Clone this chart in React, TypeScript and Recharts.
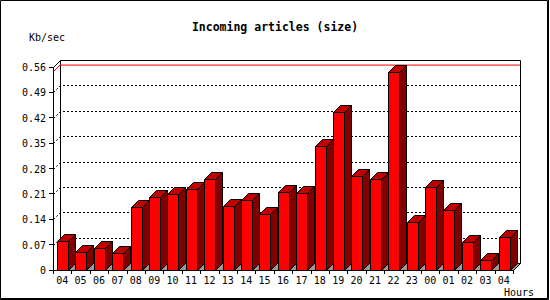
import React from 'react';
import { BarChart, Bar, XAxis, YAxis, CartesianGrid, ReferenceArea, ReferenceLine } from 'recharts';

const hours = ['04', '05', '06', '07', '08', '09', '10', '11', '12', '13', '14', '15', '16', '17', '18', '19', '20', '21', '22', '23', '00', '01', '02', '03', '04'];
const kbPerSec = [0.080, 0.050, 0.061, 0.047, 0.174, 0.201, 0.210, 0.223, 0.251, 0.177, 0.193, 0.154, 0.215, 0.212, 0.342, 0.436, 0.259, 0.251, 0.546, 0.132, 0.229, 0.166, 0.077, 0.028, 0.091];
const yTicks = [0, 0.07, 0.14, 0.21, 0.28, 0.35, 0.42, 0.49, 0.56];
const yTickLabels = ['0', '0.07', '0.14', '0.21', '0.28', '0.35', '0.42', '0.49', '0.56'];
const title = 'Incoming articles (size)';
const yUnit = 'Kb/sec';
const xUnit = 'Hours';

const data = hours.map((h, i) => ({ hour: h, value: kbPerSec[i] }));
const maxValue = Math.max(...kbPerSec);
const yMaxDomain = 0.56;

const D = 7; // 3D depth
const FONT = '"DejaVu Sans Mono", "Liberation Mono", monospace';
const BAR_W = 11;

const px = (v: number) => Math.round(v) + 0.5;

function Bar3D(props: any) {
  const { x: rx, y: ry, width, height } = props;
  if (height == null || isNaN(height)) return null;
  const x = px(rx);
  const y = px(ry);
  const x2 = x + Math.round(width);
  const yb = px(ry + height);
  return (
    <g>
      <polygon points={`${x},${yb} ${x},${y} ${x2},${y} ${x2},${yb}`} fill="#ff0000" stroke="#000" strokeWidth={1} />
      <polygon points={`${x},${y} ${x + D},${y - D} ${x2 + D},${y - D} ${x2},${y}`} fill="#c00000" stroke="#000" strokeWidth={1} />
      <polygon points={`${x2},${y} ${x2 + D},${y - D} ${x2 + D},${yb - D} ${x2},${yb}`} fill="#800000" stroke="#000" strokeWidth={1} />
    </g>
  );
}

function Frame(props: any) {
  const { x: rx, y: ry, width, height } = props;
  if (rx == null || isNaN(rx)) return <g />;
  const catW = width / hours.length;
  const x = px(rx);
  const y = px(ry);
  const xr = px(rx + width);
  const fx = px(rx + (catW - BAR_W) / 2);
  const yb = px(ry + height);
  return (
    <g>
      <polygon
        points={`${fx},${yb} ${fx + D},${yb - D} ${xr + D},${yb - D} ${xr},${yb}`}
        fill="#999999"
        stroke="#000"
        strokeWidth={1}
      />
      <path
        d={`M${x + D},${yb - D} V${y - D} H${xr + D} V${yb - D} M${x},${y} L${x + D},${y - D}`}
        fill="none"
        stroke="#000"
        strokeWidth={1}
      />
    </g>
  );
}

function MaxLine(p: any) {
  const { x1, x2, y1 } = p;
  if (x1 == null) return <g />;
  return (
    <path d={`M${x1},${y1} L${x1 + D},${y1 - D} H${x2 + D}`} fill="none" stroke="#ff0000" strokeWidth={1} />
  );
}

function GridLine(p: any) {
  const { x1, x2, y1 } = p;
  if (y1 == null || y1 < 68 || y1 > 268) return <g />;
  const y = px(y1);
  const xa = px(x1);
  const xb = px(x2);
  return (
    <g>
      <line x1={xa} y1={y} x2={xa + D} y2={y - D} stroke="#000" strokeDasharray="2 2" />
      <line x1={xa + D + 2} y1={y - D} x2={xb + D} y2={y - D} stroke="#000" strokeDasharray="2 2" shapeRendering="crispEdges" />
    </g>
  );
}

function YTick(p: any) {
  const { x, y, payload } = p;
  const i = yTicks.indexOf(payload.value);
  const label = i >= 0 ? yTickLabels[i] : String(payload.value);
  return (
    <text x={x} y={y + 4} textAnchor="end" fontFamily={FONT} fontSize={10} fill="#000">
      {label}
    </text>
  );
}

function XTick(p: any) {
  const { x, y, payload, index } = p;
  const catW = 460 / hours.length;
  const axisY = y - 4;
  const last = index === hours.length - 1;
  const xl = px(x - catW / 2);
  const xr = px(x + catW / 2);
  return (
    <g>
      <line x1={xl} y1={axisY} x2={xl} y2={axisY + 4} stroke="#000" shapeRendering="crispEdges" />
      {last && <line x1={xr} y1={axisY} x2={xr} y2={axisY + 4} stroke="#000" shapeRendering="crispEdges" />}
      <text x={x} y={axisY + 14} textAnchor="middle" fontFamily={FONT} fontSize={10} fill="#000">
        {payload.value}
      </text>
    </g>
  );
}

export default function App() {
  return (
    <div style={{ position: 'absolute', left: 0, top: 0, width: 550, height: 300, background: '#fff' }}>
      <BarChart
        width={550}
        height={300}
        data={data}
        margin={{ top: 67, right: 37, left: 8, bottom: 0 }}
        barSize={BAR_W}
      >
        <ReferenceArea y1={0} y2={yMaxDomain} shape={(p: any) => <Frame {...p} />} ifOverflow="visible" zIndex={-300} />
        <CartesianGrid vertical={false} horizontal={(p: any) => <GridLine key={p.key} {...p} />} />
        <ReferenceLine y={maxValue} shape={(p: any) => <MaxLine {...p} />} ifOverflow="visible" zIndex={-50} />
        <XAxis
          dataKey="hour"
          interval={0}
          height={30}
          tickSize={4}
          tickMargin={0}
          tickLine={{ stroke: 'none' }}
          axisLine={{ stroke: '#000', shapeRendering: 'crispEdges' }}
          tick={(p: any) => <XTick {...p} />}
        />
        <YAxis
          width={45}
          domain={[0, yMaxDomain]}
          ticks={yTicks}
          interval={0}
          tickSize={4}
          tickMargin={3}
          tickLine={{ stroke: '#000', shapeRendering: 'crispEdges' }}
          axisLine={{ stroke: '#000', shapeRendering: 'crispEdges' }}
          tick={(p: any) => <YTick {...p} />}
        />
        <Bar dataKey="value" isAnimationActive={false} shape={(p: any) => <Bar3D {...p} />} />
      </BarChart>
      <svg width={550} height={300} style={{ position: 'absolute', left: 0, top: 0, pointerEvents: 'none' }}>
        <text x={275} y={31} textAnchor="middle" fontFamily={FONT} fontWeight="bold" fontSize={11.5} fill="#000">
          {title}
        </text>
        <text x={29} y={41} fontFamily={FONT} fontSize={10} fill="#000">
          {yUnit}
        </text>
        <text x={504} y={296} fontFamily={FONT} fontSize={10} fill="#000">
          {xUnit}
        </text>
        <path d="M0.5,0.5 H547.5 V298.5 H0.5 Z" fill="none" stroke="#000" strokeWidth={1} />
        <path d="M548.5,0 V299.5 H0" fill="none" stroke="#000" strokeWidth={1} />
      </svg>
    </div>
  );
}
